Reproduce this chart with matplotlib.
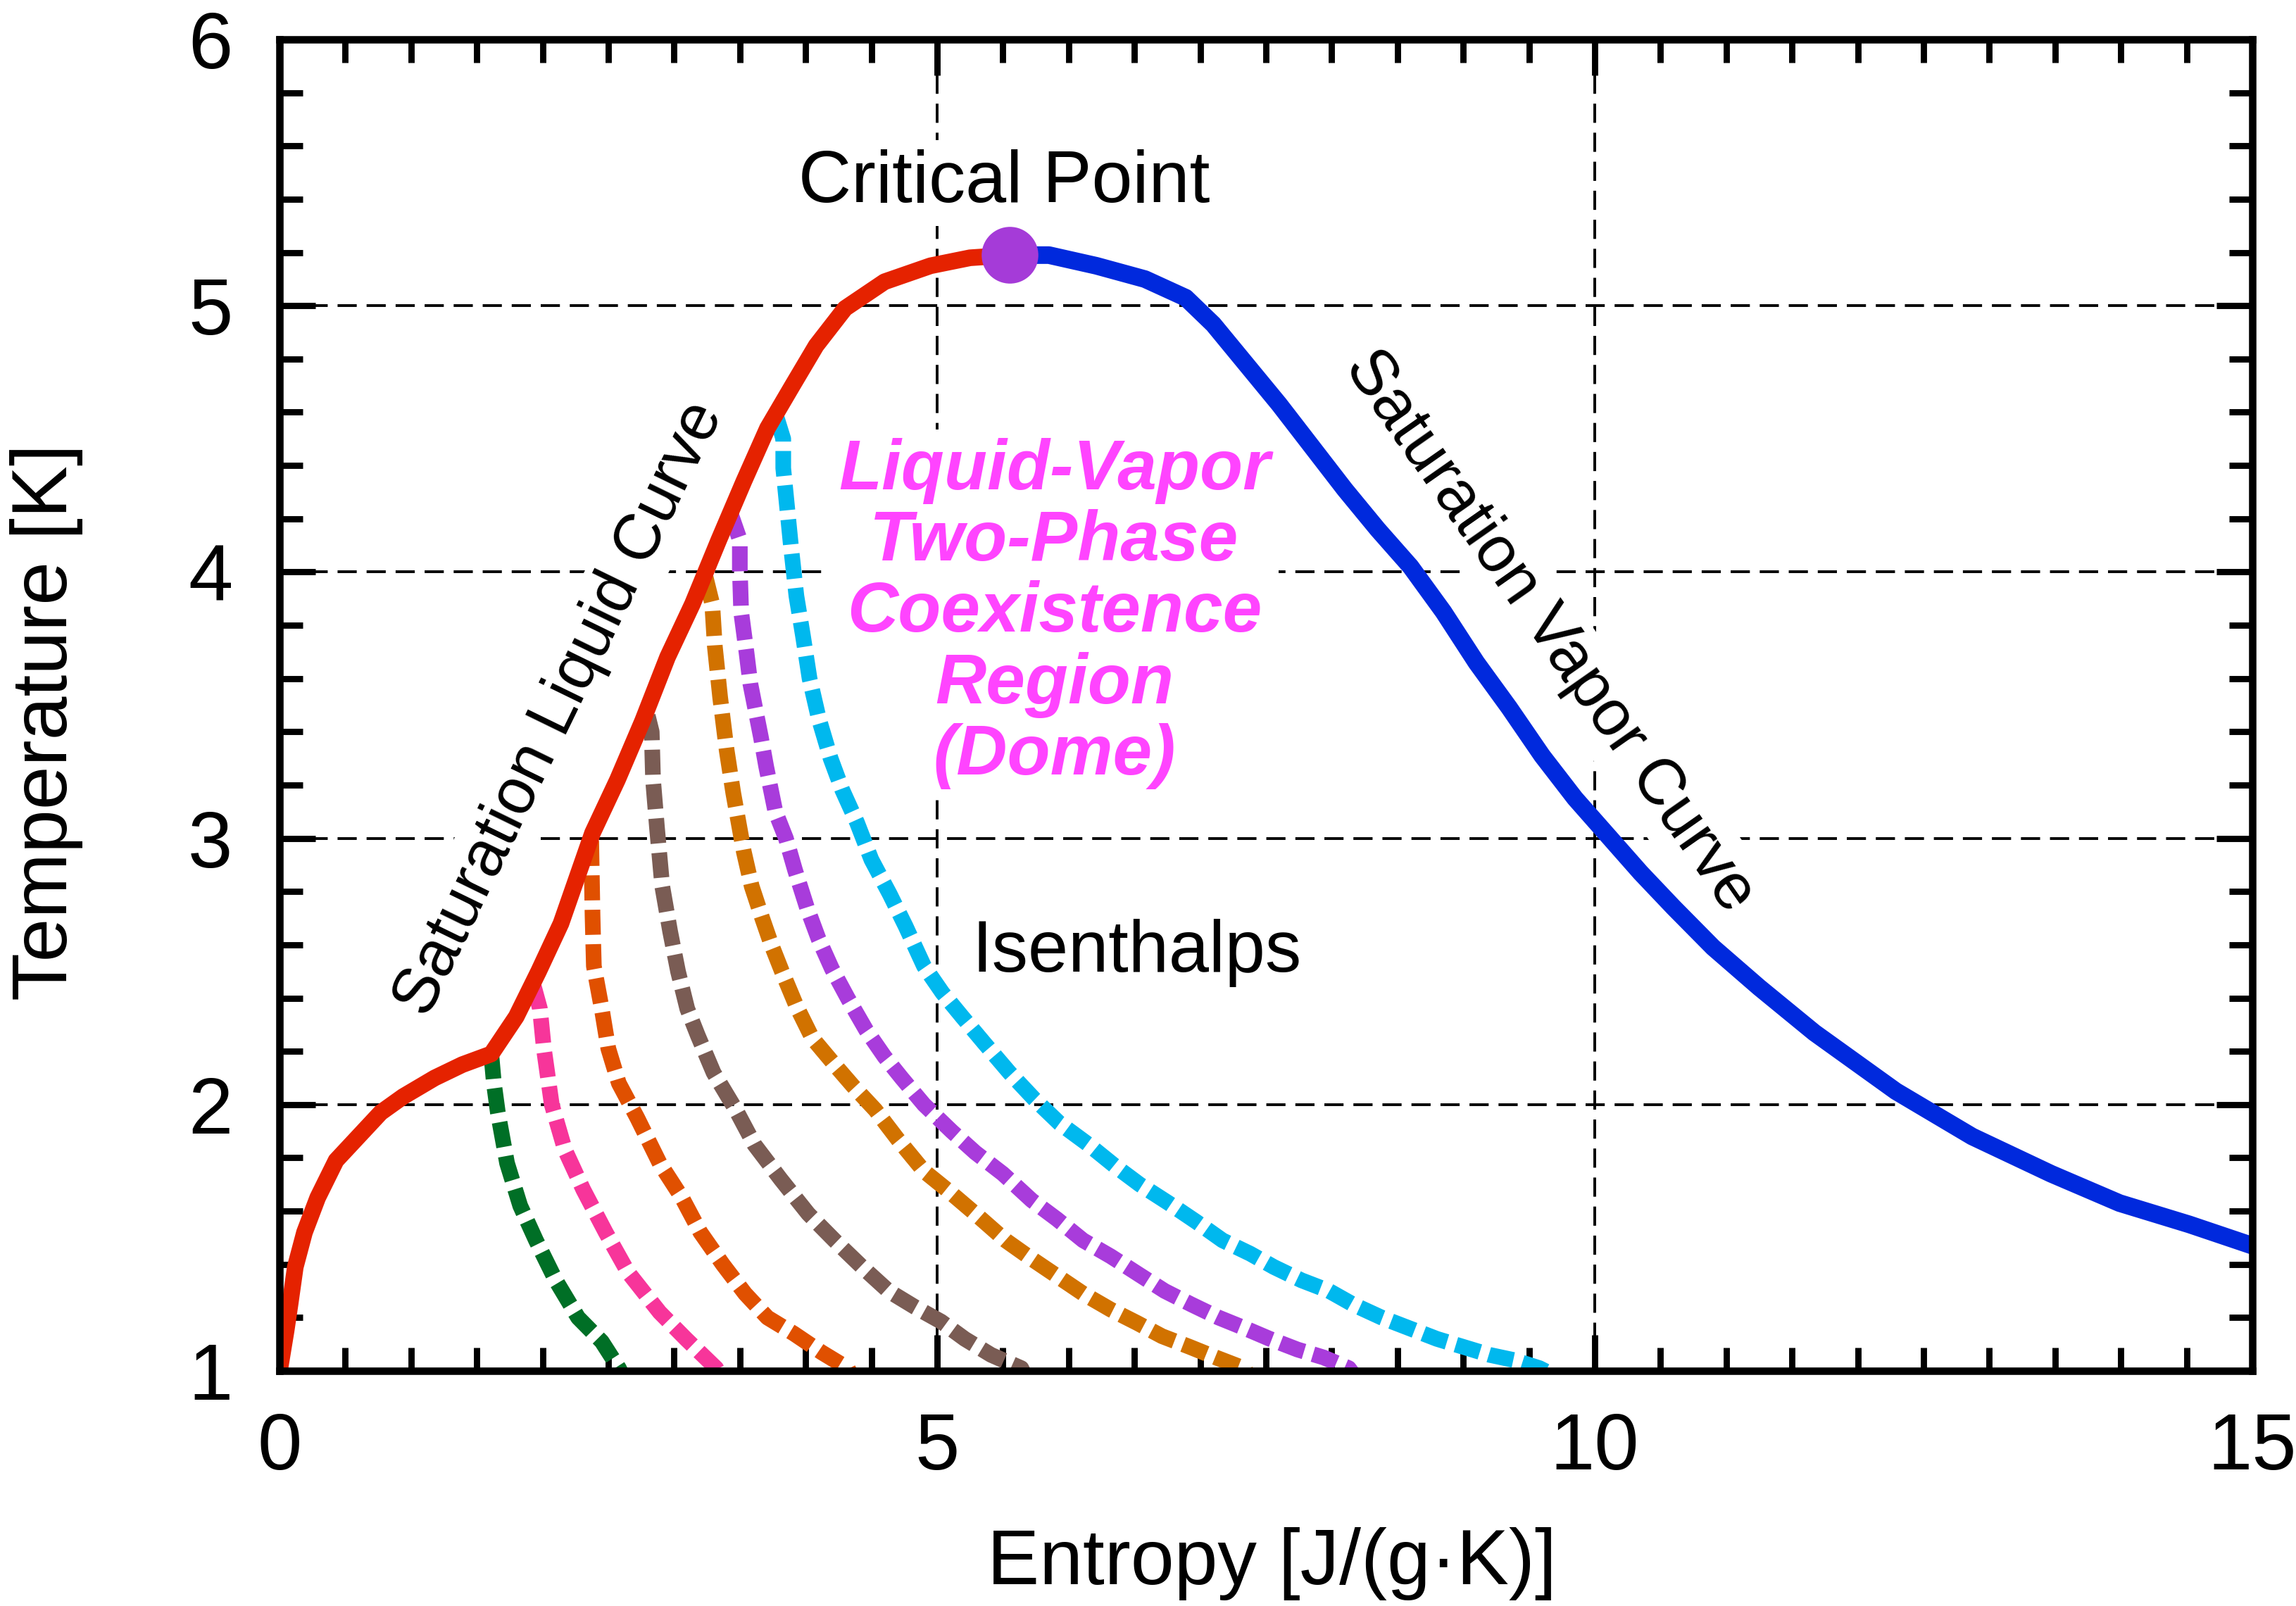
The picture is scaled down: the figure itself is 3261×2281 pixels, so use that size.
import matplotlib
matplotlib.use("Agg")
import matplotlib.pyplot as plt
from matplotlib.ticker import MultipleLocator, FixedLocator

plt.rcParams['font.family'] = ['Liberation Sans', 'DejaVu Sans']

# ---------------- data ----------------
# Saturation liquid curve (entropy J/(g K), temperature K)
liq_s = [0.0, 0.05, 0.08, 0.12, 0.19, 0.29, 0.43, 0.60, 0.77, 0.94, 1.18, 1.39, 1.61,
         1.80, 1.97, 2.14, 2.38, 2.57, 2.76, 2.95, 3.14, 3.34, 3.53, 3.71, 3.90, 4.08,
         4.30, 4.60, 4.95, 5.25, 5.55]
liq_T = [1.0, 1.15, 1.25, 1.39, 1.52, 1.65, 1.79, 1.88, 1.97, 2.03, 2.10, 2.15, 2.19,
         2.33, 2.50, 2.68, 3.02, 3.22, 3.44, 3.68, 3.88, 4.12, 4.34, 4.54, 4.70, 4.85,
         4.99, 5.09, 5.15, 5.18, 5.19]

# Saturation vapor curve
vap_s = [5.55, 5.85, 6.21, 6.58, 6.89, 7.1, 7.35, 7.6, 7.85, 8.1, 8.35, 8.60, 8.85,
         9.10, 9.35, 9.60, 9.85, 10.10, 10.35, 10.60, 10.90, 11.25, 11.67, 12.29,
         12.87, 13.47, 13.99, 14.52, 15.0]
vap_T = [5.19, 5.19, 5.15, 5.10, 5.03, 4.93, 4.78, 4.63, 4.47, 4.31, 4.16, 4.02, 3.85,
         3.66, 3.49, 3.31, 3.15, 3.01, 2.87, 2.74, 2.59, 2.44, 2.27, 2.05,
         1.88, 1.74, 1.63, 1.55, 1.47]

# Critical point
cp_s = 5.55
cp_T = 5.19

# Isenthalps
iso1_s = [1.61, 1.63, 1.66, 1.73, 1.83, 1.95, 2.10, 2.27, 2.45, 2.58, 2.60]
iso1_T = [2.19, 2.08, 1.97, 1.78, 1.62, 1.49, 1.34, 1.20, 1.11, 1.01, 0.99]

iso2_s = [1.93, 1.98, 2.01, 2.07, 2.17, 2.31, 2.48, 2.65, 2.89, 3.09, 3.32, 3.34]
iso2_T = [2.45, 2.36, 2.21, 2.00, 1.83, 1.68, 1.52, 1.37, 1.22, 1.12, 1.01, 0.99]

iso3_s = [2.37, 2.38, 2.39, 2.45, 2.50, 2.58, 2.72, 2.89, 3.06, 3.20, 3.37, 3.54,
          3.71, 3.91, 4.12, 4.32, 4.34]
iso3_T = [2.99, 2.71, 2.52, 2.36, 2.21, 2.08, 1.95, 1.78, 1.65, 1.52, 1.40, 1.29,
          1.20, 1.14, 1.07, 1.01, 0.99]

iso4_s = [2.80, 2.83, 2.84, 2.87, 2.91, 2.97, 3.03, 3.10, 3.18, 3.30, 3.47, 3.61, 3.81,
          4.02, 4.22, 4.43, 4.63, 4.83, 5.03, 5.21, 5.41, 5.64, 5.66]
iso4_T = [3.46, 3.40, 3.22, 3.04, 2.82, 2.65, 2.50, 2.36, 2.26, 2.12, 1.98, 1.85, 1.72,
          1.59, 1.49, 1.39, 1.30, 1.24, 1.185, 1.12, 1.06, 1.01, 0.99]

iso5_s = [3.24, 3.29, 3.31, 3.35, 3.40, 3.45, 3.49, 3.53, 3.59, 3.67, 3.74, 3.82, 3.93,
          4.05, 4.22, 4.36, 4.53, 4.70, 4.90, 5.10, 5.29, 5.52, 5.72, 5.93, 6.11, 6.32,
          6.52, 6.71, 6.92, 7.12, 7.33, 7.36]
iso5_T = [3.98, 3.88, 3.72, 3.53, 3.33, 3.17, 3.06, 2.95, 2.82, 2.70, 2.60, 2.50, 2.37,
          2.25, 2.15, 2.07, 1.98, 1.87, 1.75, 1.67, 1.59, 1.49, 1.42, 1.35, 1.29, 1.23,
          1.18, 1.13, 1.09, 1.05, 1.01, 0.99]

iso6_s = [3.43, 3.50, 3.50, 3.51, 3.55, 3.58, 3.62, 3.66, 3.70, 3.77, 3.85, 3.92, 4.01,
          4.10, 4.20, 4.32, 4.46, 4.60, 4.73, 4.90, 5.11, 5.29, 5.50, 5.72, 5.91, 6.11,
          6.32, 6.54, 6.73, 6.93, 7.14, 7.34, 7.53, 7.74, 7.94, 8.13, 8.16]
iso6_T = [4.22, 4.12, 4.01, 3.85, 3.70, 3.58, 3.48, 3.38, 3.27, 3.10, 3.00, 2.88, 2.74,
          2.62, 2.51, 2.40, 2.28, 2.18, 2.10, 2.00, 1.90, 1.82, 1.74, 1.64, 1.57, 1.49,
          1.43, 1.36, 1.30, 1.25, 1.20, 1.16, 1.12, 1.08, 1.05, 1.01, 0.99]

iso7_s = [3.78, 3.83, 3.83, 3.86, 3.89, 3.93, 3.98, 4.03, 4.10, 4.19, 4.28, 4.39, 4.50,
          4.64, 4.76, 4.90, 5.04, 5.19, 5.36, 5.55, 5.74, 5.93, 6.15, 6.35, 6.54, 6.76,
          6.97, 7.17, 7.38, 7.56, 7.77, 7.98, 8.16, 8.38, 8.59, 8.80, 9.00, 9.20, 9.39,
          9.58, 9.66]
iso7_T = [4.58, 4.50, 4.39, 4.24, 4.09, 3.91, 3.76, 3.60, 3.45, 3.30, 3.18, 3.06, 2.92,
          2.79, 2.67, 2.52, 2.42, 2.33, 2.23, 2.12, 2.02, 1.93, 1.85, 1.77, 1.70, 1.63,
          1.56, 1.49, 1.44, 1.39, 1.34, 1.30, 1.25, 1.20, 1.16, 1.12, 1.09, 1.06, 1.04,
          1.01, 0.99]

iso_s = [iso1_s, iso2_s, iso3_s, iso4_s, iso5_s, iso6_s, iso7_s]
iso_T = [iso1_T, iso2_T, iso3_T, iso4_T, iso5_T, iso6_T, iso7_T]
iso_colors = ['#006f26', '#f7359a', '#e05000', '#7a5c54', '#d17200', '#a83cdb', '#00b8ee']

x_ticks = [0, 5, 10, 15]
y_ticks = [1, 2, 3, 4, 5, 6]

# ---------------- figure ----------------
fig = plt.figure(figsize=(16.305, 11.405), dpi=200)
ax = fig.add_axes([0.12174, 0.14643, 0.85925, 0.82902])
ax.set_xlim(0, 15)
ax.set_ylim(1, 6)

ax.xaxis.set_major_locator(FixedLocator(x_ticks))
ax.yaxis.set_major_locator(FixedLocator(y_ticks))
ax.xaxis.set_minor_locator(MultipleLocator(0.5))
ax.yaxis.set_minor_locator(MultipleLocator(0.2))
ax.tick_params(which='both', direction='in', top=True, right=True, width=3.2,
               labelsize=41)
ax.tick_params(which='major', length=18.4)
ax.tick_params(which='minor', length=11.9)
ax.tick_params(axis='x', which='major', pad=21)
ax.tick_params(axis='y', which='major', pad=24)
for sp in ax.spines.values():
    sp.set_linewidth(3.8)
    sp.set_zorder(10)

ax.grid(True, which='major', color='black', linewidth=1.4,
        linestyle=(0, (7, 3.6)), zorder=0.5)
ax.set_axisbelow(True)

for s, T, c in zip(iso_s, iso_T, iso_colors):
    ax.plot(s, T, color=c, linewidth=8.0, linestyle=(0, (1.6, 0.6)),
            dash_capstyle='butt', solid_joinstyle='round', zorder=3)

ax.plot(liq_s, liq_T, color='#e52200', linewidth=8.5, zorder=4,
        solid_joinstyle='round', solid_capstyle='butt')
ax.plot(vap_s, vap_T, color='#0029dd', linewidth=9.0, zorder=4,
        solid_joinstyle='round', solid_capstyle='butt')
ax.plot([cp_s], [cp_T], 'o', color='#a53bd8', markersize=29, markeredgewidth=0,
        zorder=6)

wb = dict(boxstyle='square,pad=0.12', facecolor='white', edgecolor='none')

ax.text(5.51, 5.39, 'Critical Point', fontsize=37.5, ha='center', va='baseline',
        bbox=wb, zorder=2)
ax.text(5.89, 3.24, 'Liquid-Vapor\nTwo-Phase\nCoexistence\nRegion\n(Dome)',
        fontsize=36, fontweight='bold', fontstyle='italic', color='#ff44ff',
        ha='center', va='baseline', multialignment='center', linespacing=1.1,
        bbox=wb, zorder=2)
ax.text(6.52, 2.50, 'Isenthalps', fontsize=37, ha='center', va='baseline',
        bbox=wb, zorder=2)
ax.text(2.245, 3.457, 'Saturation Liquid Curve', fontsize=33, rotation=64,
        rotation_mode='anchor', ha='center', va='baseline', bbox=wb, zorder=2)
ax.text(9.55, 3.74, 'Saturation Vapor Curve', fontsize=33, rotation=-55,
        rotation_mode='anchor', ha='center', va='baseline', bbox=wb, zorder=2)

ax.set_xlabel('Entropy [J/(g·K)]', fontsize=40)
ax.set_ylabel('Temperature [K]', fontsize=40)
ax.xaxis.set_label_coords(0.503, -0.145)
ax.xaxis.label.set_va('center')
ax.yaxis.set_label_coords(-0.118, 0.487)
ax.yaxis.label.set_va('center')

fig.savefig('out.png', dpi=200)
